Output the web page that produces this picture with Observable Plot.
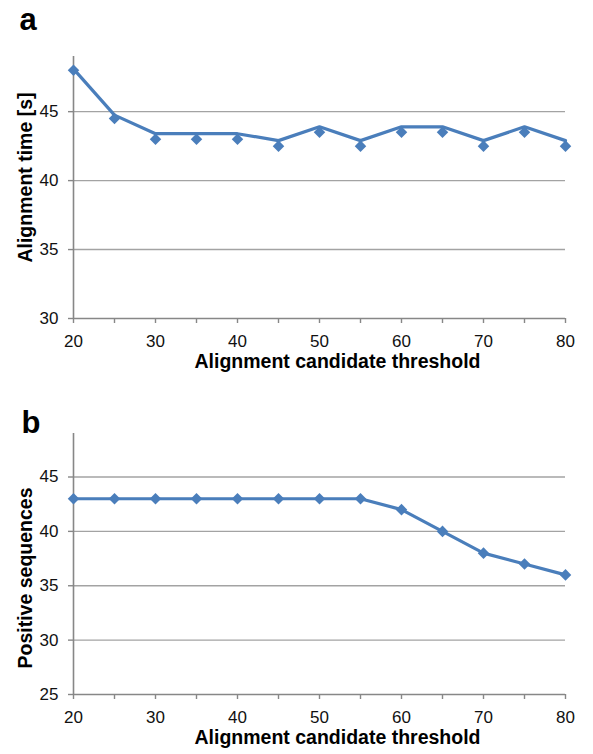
<!DOCTYPE html>
<html>
<head>
<meta charset="utf-8">
<script src="https://cdn.jsdelivr.net/npm/d3@7"></script>
<script src="https://cdn.jsdelivr.net/npm/@observablehq/plot@0.6"></script>
<style>
  html, body { margin: 0; padding: 0; background: #fff; }
  #wrap { position: relative; width: 593px; height: 754px; }
  .panel { position: absolute; left: 0; }
</style>
</head>
<body>
<div id="wrap">
  <div id="pa" class="panel" style="top:0px"></div>
  <div id="pb" class="panel" style="top:380px"></div>
</div>
<script>
// ---- data ----
const thresholds = [20, 25, 30, 35, 40, 45, 50, 55, 60, 65, 70, 75, 80];
const alignTimeMarkers = [48, 44.5, 43, 43, 43, 42.5, 43.5, 42.5, 43.5, 43.5, 42.5, 43.5, 42.5];
const alignTimeLine = [48.1, 44.75, 43.4, 43.4, 43.4, 42.9, 43.9, 42.9, 43.9, 43.9, 42.9, 43.9, 42.9];
const positiveSeqs = [43, 43, 43, 43, 43, 43, 43, 43, 42, 40, 38, 37, 36];
const xTickValues = [20, 25, 30, 35, 40, 45, 50, 55, 60, 65, 70, 75, 80];
const yTicksA = [30, 35, 40, 45];
const yGridA = [35, 40, 45];
const yTicksB = [25, 30, 35, 40, 45];
const yGridB = [30, 35, 40, 45];
const xTitle = "Alignment candidate threshold";
const yTitleA = "Alignment time [s]";
const yTitleB = "Positive sequences";

const FONT = "'Liberation Sans', Arial, Helvetica, sans-serif";
const BLUE = "#4a7ebb";
const GRID = "#a3a3a3";
const AXIS = "#878787";

const rowsA = thresholds.map((t, i) => ({t, line: alignTimeLine[i], mark: alignTimeMarkers[i]}));
const rowsB = thresholds.map((t, i) => ({t, v: positiveSeqs[i]}));

function panel({height, marginTop, marginBottom, yDomain, yTicks, yGrid, rows, lineKey, markKey, yTitle, yTitleDy, letter, letterDy, letterDx}) {
  return Plot.plot({
    width: 593,
    height,
    marginLeft: 73,
    marginRight: 28,
    marginTop,
    marginBottom,
    style: {fontFamily: FONT, fontSize: "16px", color: "#111", background: "transparent", overflow: "visible"},
    x: {domain: [20, 80]},
    y: {domain: yDomain},
    marks: [
      Plot.gridY(yGrid, {stroke: GRID, strokeOpacity: 1, strokeWidth: 1.4}),
      Plot.axisY(yTicks, {tickSize: 5, tickPadding: 10, stroke: AXIS, strokeWidth: 1.4, fill: "#111", label: null, fontSize: 17}),
      Plot.axisX(xTickValues, {tickSize: 5, tickPadding: 11, stroke: AXIS, strokeWidth: 1.4, fill: "#111", label: null, fontSize: 17,
        tickFormat: d => d % 10 === 0 ? String(d) : ""}),
      Plot.ruleX([20], {stroke: AXIS, strokeWidth: 1.6}),
      Plot.ruleY([yDomain[0]], {stroke: AXIS, strokeWidth: 1.6}),
      Plot.line(rows, {x: "t", y: lineKey, stroke: BLUE, strokeWidth: 3.2}),
      Plot.dot(rows, {x: "t", y: markKey, symbol: "diamond2", r: 5.2, fill: BLUE, stroke: "none"}),
      Plot.text([xTitle], {frameAnchor: "bottom", dx: 18, dy: 49, fontWeight: "bold", fontSize: 19.5, fill: "#000"}),
      Plot.text([yTitle], {frameAnchor: "left", textAnchor: "middle", lineAnchor: "middle", rotate: -90, dx: -48, dy: yTitleDy, fontWeight: "bold", fontSize: 19.5, fill: "#000"}),
      Plot.text([letter], {frameAnchor: "top-left", textAnchor: "start", lineAnchor: "bottom", dx: letterDx, dy: letterDy, fontWeight: "bold", fontSize: 31, fill: "#000"})
    ]
  });
}

document.getElementById("pa").appendChild(panel({
  height: 380, marginTop: 56, marginBottom: 62,
  yDomain: [30, 49], yTicks: yTicksA, yGrid: yGridA,
  rows: rowsA, lineKey: "line", markKey: "mark",
  yTitle: yTitleA, yTitleDy: -10, letter: "a", letterDy: -27, letterDx: -54
}));
document.getElementById("pb").appendChild(panel({
  height: 374, marginTop: 53, marginBottom: 60,
  yDomain: [25, 49], yTicks: yTicksB, yGrid: yGridB,
  rows: rowsB, lineKey: "v", markKey: "v",
  yTitle: yTitleB, yTitleDy: 14, letter: "b", letterDy: -1, letterDx: -52
}));
</script>
</body>
</html>
